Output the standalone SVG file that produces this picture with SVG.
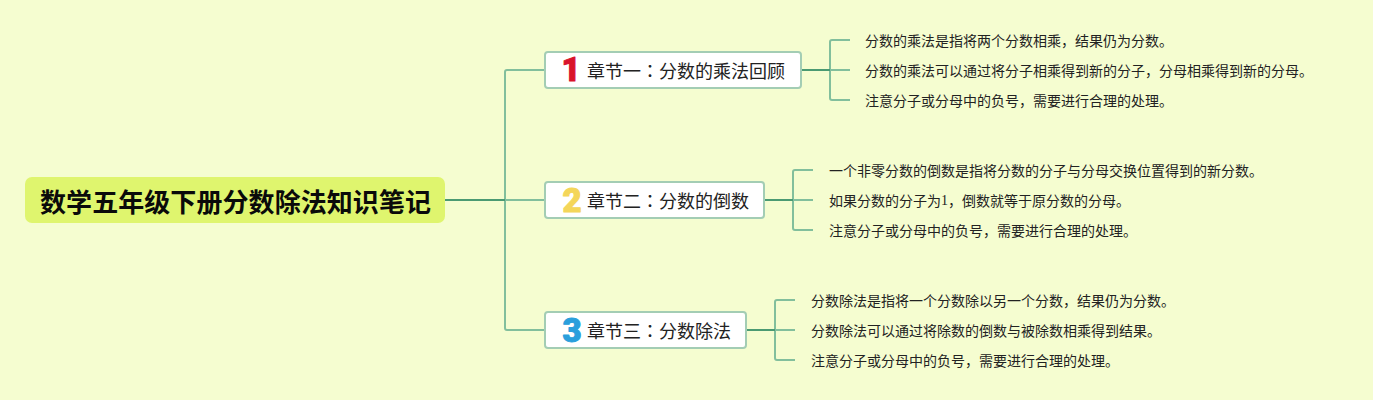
<svg xmlns="http://www.w3.org/2000/svg" width="1373" height="400" viewBox="0 0 1373 400">
<style>
text{font-family:"Noto Sans CJK SC","Noto Sans",sans-serif;dominant-baseline:central}
.root{fill:#dff56e}
.rt{font-size:26px;font-weight:700;fill:#0a0a0a}
.box{fill:#fff;stroke:#a3cdb4;stroke-width:2}
.bt{font-size:18px;fill:#222}
.lt{font-size:14px;fill:#222}
.c{font-family:"Noto Sans CJK TC",sans-serif}
.num{font-family:Roboto,sans-serif;font-size:33px;font-weight:900;text-anchor:middle;stroke-width:1;stroke-linejoin:round}
.l{fill:none;stroke:#82bf9c;stroke-width:2}
.d{fill:none;stroke:#4a9a72;stroke-width:2}
</style>
<rect width="1373" height="400" fill="#f5fdd0"/>
<g id="connectors">
<path class="l" d="M545 70H507Q505 70 505 72V328Q505 330 507 330H545M505 200H545"/>
<path class="d" d="M445 200H505"/>
<path class="l" d="M850 40H832Q830 40 830 42V98Q830 100 832 100H850M830 70H850"/>
<path class="d" d="M801 70H830"/>
<path class="l" d="M813 170H795Q793 170 793 172V228Q793 230 795 230H813M793 200H813"/>
<path class="d" d="M764 200H793"/>
<path class="l" d="M795 300H777Q775 300 775 302V358Q775 360 777 360H795M775 330H795"/>
<path class="d" d="M746 330H775"/>
</g>
<g id="root"><rect class="root" x="25" y="177" width="420" height="46" rx="7"/><text class="rt" x="40" y="200" textLength="391" lengthAdjust="spacing">数学五年级下册分数除法知识笔记</text></g>
<g id="branch1"><rect class="box" x="545" y="52" width="256" height="36" rx="3"/><text class="num" x="571" y="69" fill="#d9132b" stroke="#d9132b">1</text><text class="bt" x="587" y="70">章节一<tspan class="c">：</tspan>分数的乘法回顾</text></g>
<g id="branch2"><rect class="box" x="545" y="182" width="219" height="36" rx="3"/><text class="num" x="572" y="200" fill="#f4d65a" stroke="#f4d65a">2</text><text class="bt" x="587" y="200">章节二<tspan class="c">：</tspan>分数的倒数</text></g>
<g id="branch3"><rect class="box" x="545" y="312" width="201" height="36" rx="3"/><text class="num" x="572" y="330" fill="#2a9fdc" stroke="#2a9fdc">3</text><text class="bt" x="587" y="330">章节三<tspan class="c">：</tspan>分数除法</text></g>
<g id="leaf1-1"><text class="lt" x="865" y="40">分数的乘法是指将两个分数相乘，结果仍为分数。</text></g>
<g id="leaf1-2"><text class="lt" x="865" y="70">分数的乘法可以通过将分子相乘得到新的分子，分母相乘得到新的分母。</text></g>
<g id="leaf1-3"><text class="lt" x="865" y="100">注意分子或分母中的负号，需要进行合理的处理。</text></g>
<g id="leaf2-1"><text class="lt" x="829" y="170">一个非零分数的倒数是指将分数的分子与分母交换位置得到的新分数。</text></g>
<g id="leaf2-2"><text class="lt" x="829" y="200">如果分数的分子为<tspan font-family="Liberation Serif">1</tspan>，倒数就等于原分数的分母。</text></g>
<g id="leaf2-3"><text class="lt" x="829" y="230">注意分子或分母中的负号，需要进行合理的处理。</text></g>
<g id="leaf3-1"><text class="lt" x="811" y="300">分数除法是指将一个分数除以另一个分数，结果仍为分数。</text></g>
<g id="leaf3-2"><text class="lt" x="811" y="330">分数除法可以通过将除数的倒数与被除数相乘得到结果。</text></g>
<g id="leaf3-3"><text class="lt" x="811" y="360">注意分子或分母中的负号，需要进行合理的处理。</text></g>
</svg>
